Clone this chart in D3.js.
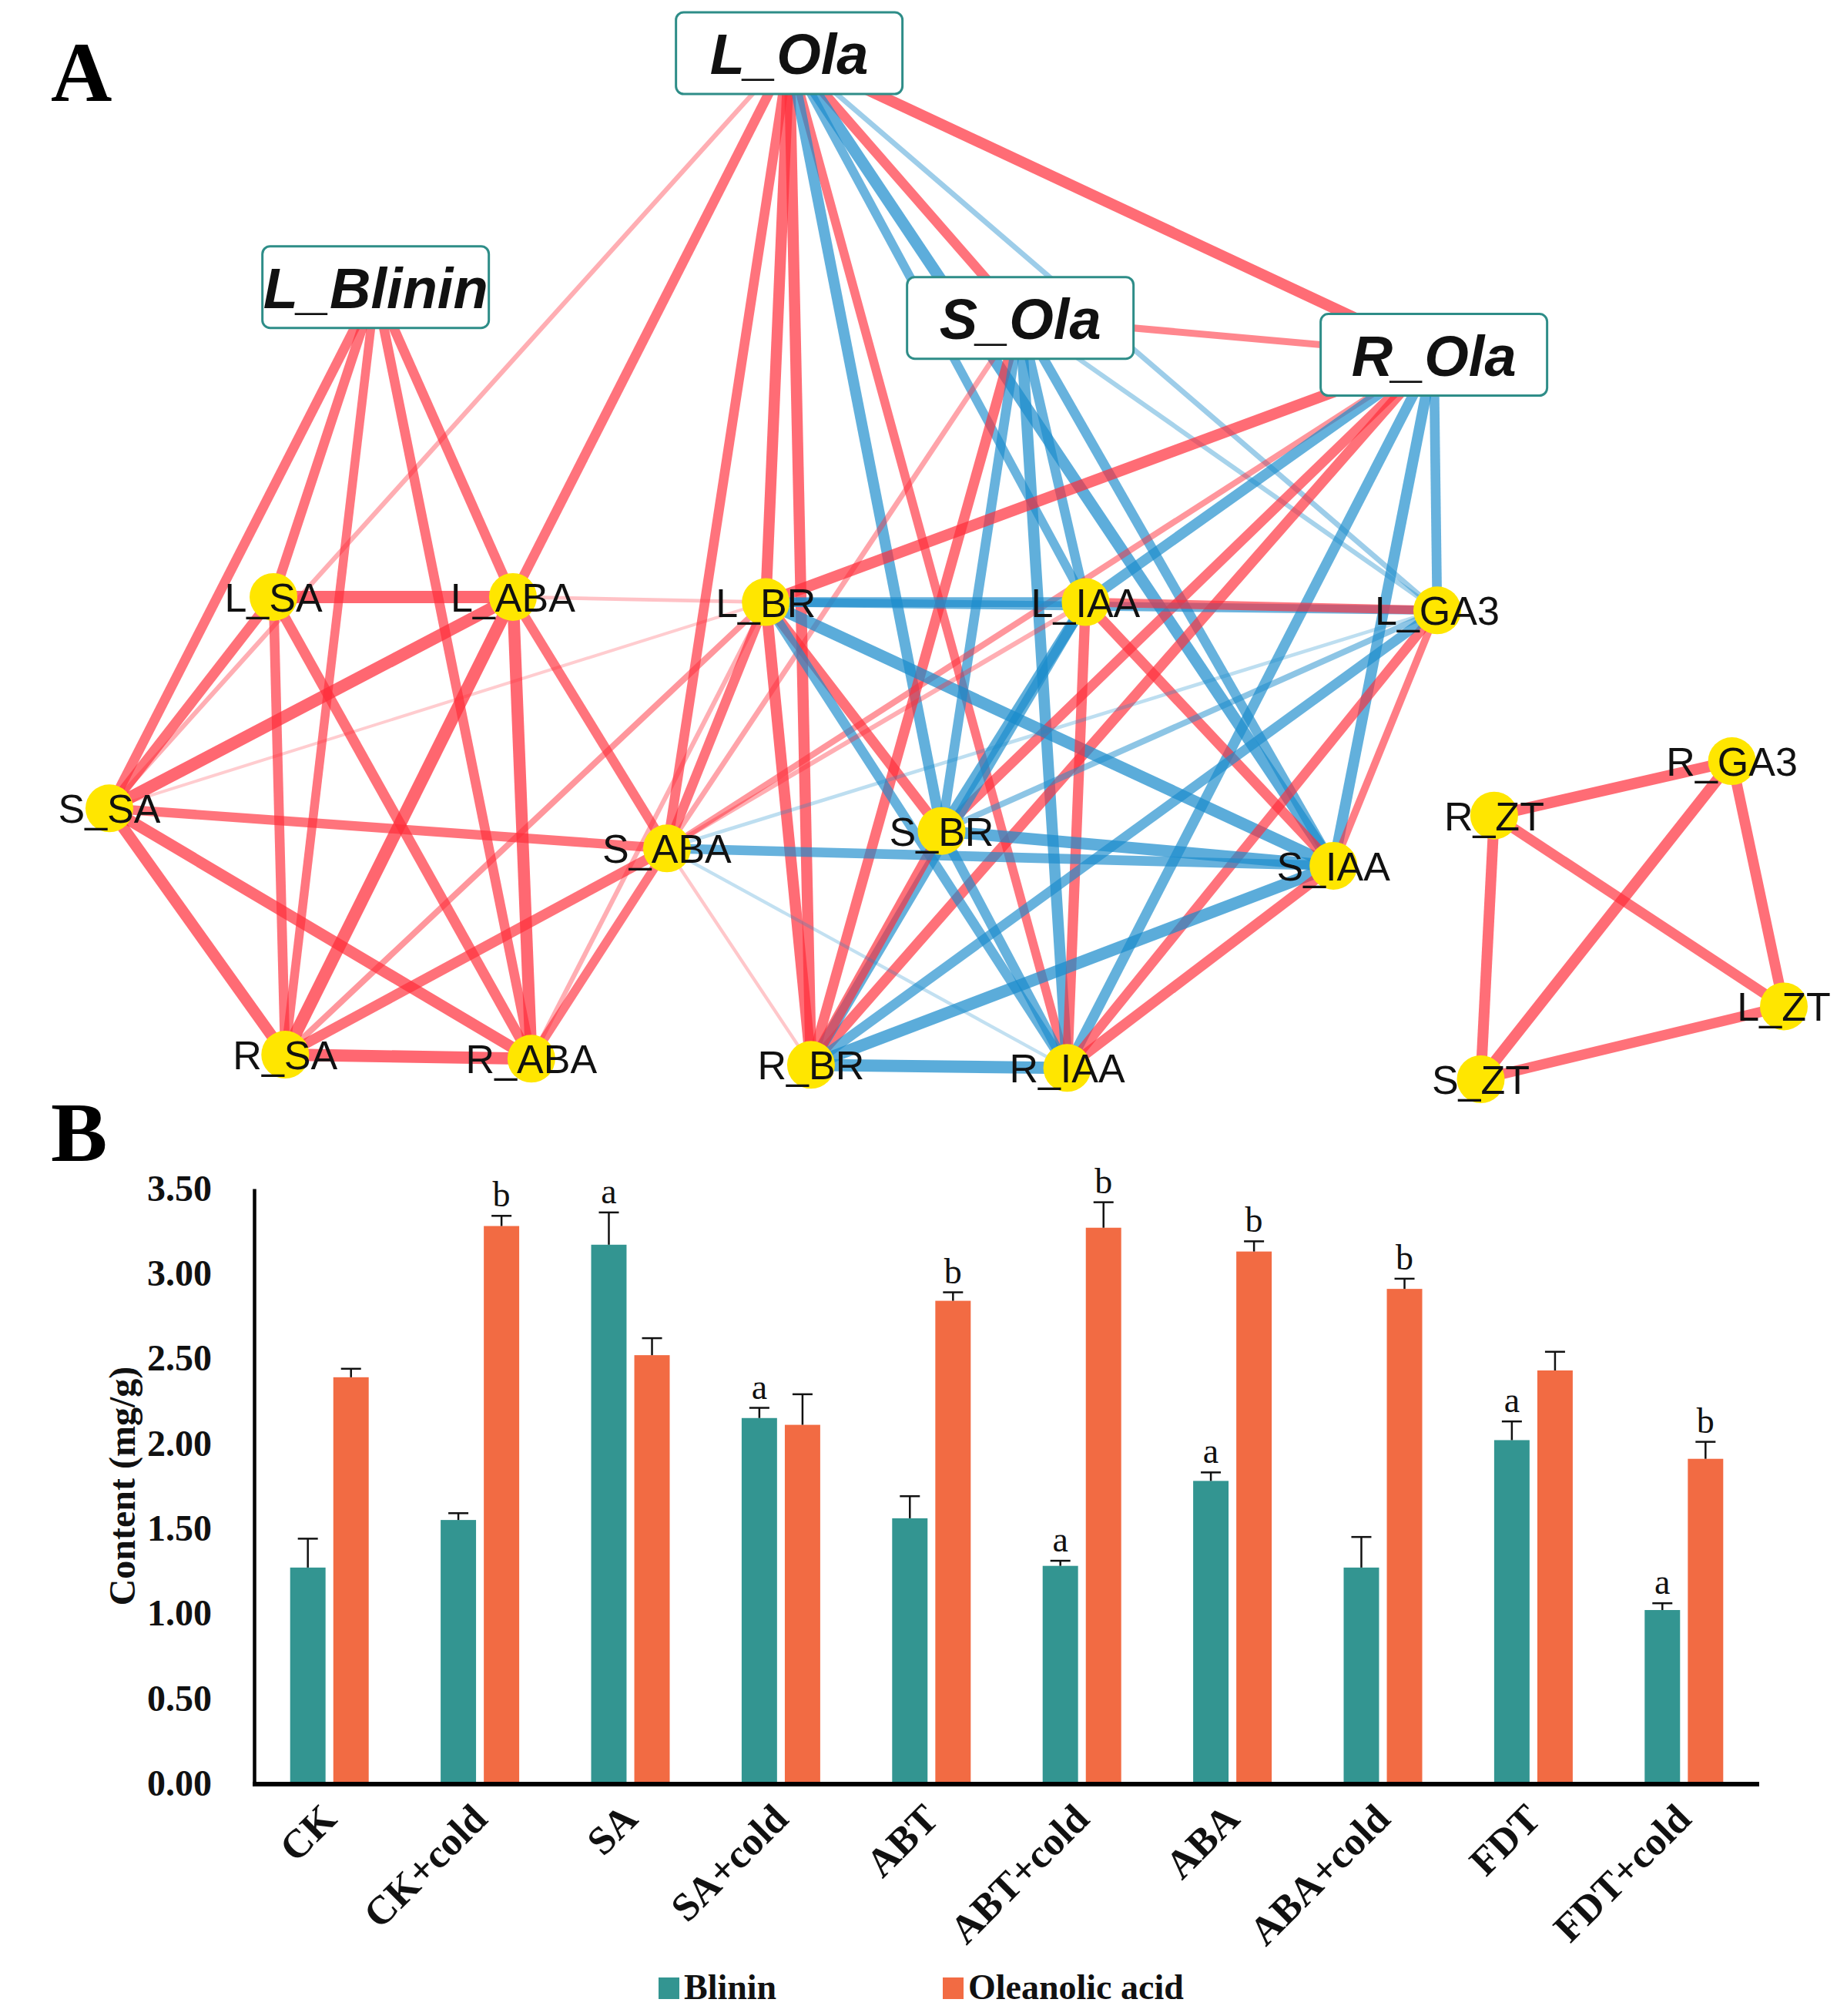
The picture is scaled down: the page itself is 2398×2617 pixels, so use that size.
<!DOCTYPE html>
<html>
<head>
<meta charset="utf-8">
<script src="https://cdn.jsdelivr.net/npm/d3@7"></script>
<style>
  body { margin: 0; background: #fff; }
  svg { display: block; }
</style>
</head>
<body>
<div id="vis"></div>
<script>
// ---------- panel A: correlation network ----------
// layout units (0-100) as exported from the network tool
const nodeNames = ["L_Ola", "S_Ola", "R_Ola", "L_Blinin",
  "L_SA", "L_ABA", "L_BR", "L_IAA", "L_GA3",
  "S_SA", "S_ABA", "S_BR", "S_IAA",
  "R_SA", "R_ABA", "R_BR", "R_IAA",
  "R_ZT", "R_GA3", "L_ZT", "S_ZT"];
const nodeX = [40.6, 54.4, 79.1, 15.9,
  9.8, 24.1, 39.2, 58.3, 79.3,
  0, 33.3, 49.7, 73.1,
  10.5, 25.2, 41.9, 57.2,
  82.7, 96.9, 100, 81.9];
const nodeY = [0, 25.8, 29.4, 22.8,
  53.0, 53.0, 53.5, 53.5, 54.3,
  73.6, 77.5, 75.8, 79.2,
  97.6, 98.0, 98.6, 98.9,
  74.3, 69.0, 92.9, 100];
const metaboliteNodes = ["L_Ola", "S_Ola", "R_Ola", "L_Blinin"];

// correlation edges: source, target, r (positive = red, negative = blue)
const edges = [
  ["L_Blinin", "L_SA", 0.88], ["L_Blinin", "S_SA", 0.88], ["L_Blinin", "R_SA", 0.85],
  ["L_Blinin", "R_ABA", 0.88], ["L_Blinin", "L_ABA", 0.88],
  ["L_SA", "L_ABA", 0.97], ["L_SA", "S_SA", 0.9], ["L_SA", "R_SA", 0.88], ["L_SA", "R_ABA", 0.9],
  ["L_ABA", "S_SA", 0.97], ["L_ABA", "R_SA", 0.98], ["L_ABA", "R_ABA", 0.96],
  ["L_ABA", "S_ABA", 0.87], ["L_ABA", "L_BR", 0.66],
  ["S_SA", "S_ABA", 0.87], ["S_SA", "R_SA", 0.94], ["S_SA", "R_ABA", 0.94], ["S_SA", "L_BR", 0.64],
  ["R_SA", "R_ABA", 0.97], ["R_SA", "S_ABA", 0.9], ["R_SA", "L_BR", 0.75],
  ["R_ABA", "L_BR", 0.7], ["R_ABA", "S_ABA", 0.85],
  ["L_Ola", "S_SA", 0.7], ["L_Ola", "L_ABA", 0.88], ["L_Ola", "S_ABA", 0.88],
  ["L_Ola", "L_BR", 0.93], ["L_Ola", "R_BR", 0.93], ["L_Ola", "R_IAA", 0.85],
  ["L_Ola", "R_Ola", 0.93], ["L_Ola", "S_Ola", 0.88],
  ["L_Ola", "S_BR", -0.92], ["L_Ola", "S_IAA", -0.95], ["L_Ola", "L_IAA", -0.85], ["L_Ola", "L_GA3", -0.72],
  ["S_Ola", "R_Ola", 0.78], ["S_Ola", "R_BR", 0.9], ["S_Ola", "S_ABA", 0.72],
  ["S_Ola", "S_BR", -0.88], ["S_Ola", "R_IAA", -0.93], ["S_Ola", "L_IAA", -0.88],
  ["S_Ola", "S_IAA", -0.88], ["S_Ola", "L_GA3", -0.7],
  ["R_Ola", "L_BR", 0.93], ["R_Ola", "S_BR", 0.88], ["R_Ola", "R_BR", 0.9], ["R_Ola", "S_ABA", 0.75],
  ["R_Ola", "L_GA3", -0.88], ["R_Ola", "S_IAA", -0.92], ["R_Ola", "R_IAA", -0.9], ["R_Ola", "L_IAA", -0.9],
  ["L_BR", "S_ABA", 0.88], ["L_BR", "R_BR", 0.93], ["L_BR", "S_BR", 0.9],
  ["L_BR", "L_IAA", -0.88], ["L_BR", "L_GA3", -0.85], ["L_BR", "S_IAA", -0.96], ["L_BR", "R_IAA", -0.88],
  ["L_IAA", "R_IAA", 0.9], ["L_IAA", "S_IAA", 0.9], ["L_IAA", "L_GA3", 0.85], ["L_IAA", "S_ABA", 0.7],
  ["L_IAA", "S_BR", -0.93], ["L_IAA", "R_BR", -0.9],
  ["L_GA3", "S_IAA", 0.8], ["L_GA3", "R_IAA", 0.88],
  ["L_GA3", "R_BR", -0.88], ["L_GA3", "S_BR", -0.75], ["L_GA3", "S_ABA", -0.66],
  ["S_BR", "R_BR", 0.9], ["S_BR", "S_IAA", -0.95], ["S_BR", "R_IAA", -0.88],
  ["S_ABA", "S_IAA", -0.88], ["S_ABA", "R_IAA", -0.65], ["S_ABA", "R_BR", 0.65],
  ["S_IAA", "R_BR", -0.96], ["S_IAA", "R_IAA", 0.9], ["R_BR", "R_IAA", -0.97],
  ["R_ZT", "R_GA3", 0.93], ["R_ZT", "S_ZT", 0.92], ["R_ZT", "L_ZT", 0.9],
  ["R_GA3", "S_ZT", 0.93], ["R_GA3", "L_ZT", 0.91], ["S_ZT", "L_ZT", 0.9]
];

// ---------- panel B: bar chart ----------
const categories = ["CK", "CK+cold", "SA", "SA+cold", "ABT", "ABT+cold", "ABA", "ABA+cold", "FDT", "FDT+cold"];
const blinin = [1.27, 1.55, 3.17, 2.15, 1.56, 1.28, 1.78, 1.27, 2.02, 1.02];
const blininErr = [0.17, 0.04, 0.19, 0.06, 0.13, 0.03, 0.05, 0.18, 0.11, 0.04];
const oleanolic = [2.39, 3.28, 2.52, 2.11, 2.84, 3.27, 3.13, 2.91, 2.43, 1.91];
const oleanolicErr = [0.05, 0.06, 0.10, 0.18, 0.05, 0.15, 0.06, 0.06, 0.11, 0.10];
const blininSig = ["", "", "a", "a", "", "a", "a", "", "a", "a"];
const oleanolicSig = ["", "b", "", "", "b", "b", "b", "b", "", "b"];
const seriesNames = ["Blinin", "Oleanolic acid"];
const yTicks = [0, 0.5, 1, 1.5, 2, 2.5, 3, 3.5];

const W = 2398, H = 2617;
const svg = d3.select("#vis")
  .append("svg")
  .attr("width", W)
  .attr("height", H)
  .attr("viewBox", `0 0 ${W} ${H}`);

const serif = "'Liberation Serif', 'Times New Roman', serif";
const sans = "'Liberation Sans', Arial, sans-serif";

// panel letters
svg.append("text").attr("x", 66).attr("y", 131)
  .attr("font-family", serif).attr("font-weight", "bold").attr("font-size", 110)
  .text("A");
svg.append("text").attr("x", 66).attr("y", 1507)
  .attr("font-family", serif).attr("font-weight", "bold").attr("font-size", 110)
  .text("B");

// ---------- network ----------
const nx = d3.scaleLinear().domain([0, 100]).range([142, 2316]);
const ny = d3.scaleLinear().domain([0, 100]).range([69, 1401]);
const widthScale = d3.scaleLinear().domain([0.6, 1]).range([2.5, 17]).clamp(true);
const opacityScale = d3.scaleLinear().domain([0.6, 0.8, 1]).range([0.15, 0.62, 0.74]).clamp(true);

const nodes = nodeNames.map((name, i) => ({ name, x: nodeX[i], y: nodeY[i] }));
const byName = new Map(nodes.map(d => [d.name, d]));

const net = svg.append("g");

net.selectAll("line.edge")
  .data(edges)
  .join("line")
  .attr("class", "edge")
  .attr("x1", d => nx(byName.get(d[0]).x))
  .attr("y1", d => ny(byName.get(d[0]).y))
  .attr("x2", d => nx(byName.get(d[1]).x))
  .attr("y2", d => ny(byName.get(d[1]).y))
  .attr("stroke", d => d[2] > 0 ? "#ff2d3a" : "#1b8ccc")
  .attr("stroke-width", d => widthScale(Math.abs(d[2])))
  .attr("stroke-opacity", d => opacityScale(Math.abs(d[2])));

const hormones = nodes.filter(d => !metaboliteNodes.includes(d.name));
const metabolites = nodes.filter(d => metaboliteNodes.includes(d.name));

net.selectAll("circle.node")
  .data(hormones)
  .join("circle")
  .attr("class", "node")
  .attr("cx", d => nx(d.x))
  .attr("cy", d => ny(d.y))
  .attr("r", 31)
  .attr("fill", "#ffe600");

net.selectAll("text.node-label")
  .data(hormones)
  .join("text")
  .attr("class", "node-label")
  .attr("x", d => nx(d.x))
  .attr("y", d => ny(d.y) + 19)
  .attr("text-anchor", "middle")
  .attr("font-family", sans)
  .attr("font-size", 52)
  .attr("fill", "#111")
  .text(d => d.name);

const boxW = 294, boxH = 106;
net.selectAll("rect.box")
  .data(metabolites)
  .join("rect")
  .attr("class", "box")
  .attr("x", d => nx(d.x) - boxW / 2)
  .attr("y", d => ny(d.y) - boxH / 2)
  .attr("width", boxW)
  .attr("height", boxH)
  .attr("rx", 10)
  .attr("fill", "#fff")
  .attr("stroke", "#2e8d88")
  .attr("stroke-width", 3);

net.selectAll("text.box-label")
  .data(metabolites)
  .join("text")
  .attr("class", "box-label")
  .attr("x", d => nx(d.x))
  .attr("y", d => ny(d.y) + 27)
  .attr("text-anchor", "middle")
  .attr("font-family", sans)
  .attr("font-weight", "bold")
  .attr("font-style", "italic")
  .attr("font-size", 74)
  .attr("fill", "#111")
  .text(d => d.name);

// ---------- bar chart ----------
const x = d3.scaleBand().domain(categories).range([330, 2284]).padding(0);
const xSub = d3.scaleBand().domain(seriesNames)
  .range([x.bandwidth() / 2 - 51, x.bandwidth() / 2 + 51])
  .paddingInner(0.18);
const y = d3.scaleLinear().domain([0, 3.5]).range([2315, 1543]);
const color = d3.scaleOrdinal().domain(seriesNames).range(["#339591", "#f26b43"]);

const barData = [];
categories.forEach((c, i) => {
  barData.push({ cat: c, series: "Blinin", value: blinin[i], err: blininErr[i], sig: blininSig[i] });
  barData.push({ cat: c, series: "Oleanolic acid", value: oleanolic[i], err: oleanolicErr[i], sig: oleanolicSig[i] });
});

const chart = svg.append("g");

chart.selectAll("rect.bar")
  .data(barData)
  .join("rect")
  .attr("class", "bar")
  .attr("x", d => x(d.cat) + xSub(d.series))
  .attr("y", d => y(d.value))
  .attr("width", xSub.bandwidth())
  .attr("height", d => y(0) - y(d.value))
  .attr("fill", d => color(d.series));

const errG = chart.selectAll("g.err")
  .data(barData)
  .join("g")
  .attr("class", "err")
  .attr("transform", d => `translate(${x(d.cat) + xSub(d.series) + xSub.bandwidth() / 2},0)`);

errG.append("line")
  .attr("x1", 0).attr("x2", 0)
  .attr("y1", d => y(d.value))
  .attr("y2", d => y(d.value + d.err))
  .attr("stroke", "#111").attr("stroke-width", 2.5);

errG.append("line")
  .attr("x1", -13).attr("x2", 13)
  .attr("y1", d => y(d.value + d.err))
  .attr("y2", d => y(d.value + d.err))
  .attr("stroke", "#111").attr("stroke-width", 2.5);

errG.append("text")
  .attr("x", 0)
  .attr("y", d => y(d.value + d.err) - 12)
  .attr("text-anchor", "middle")
  .attr("font-family", serif)
  .attr("font-size", 46)
  .attr("fill", "#111")
  .text(d => d.sig);

// y axis
const yAxis = chart.append("g")
  .attr("transform", "translate(330,0)")
  .call(d3.axisLeft(y).tickValues(yTicks).tickFormat(d3.format(".2f")).tickSize(0).tickPadding(55));
yAxis.select(".domain").attr("stroke", "#000").attr("stroke-width", 4.5);
yAxis.selectAll("text")
  .attr("font-family", serif)
  .attr("font-weight", "bold")
  .attr("font-size", 48)
  .attr("fill", "#111");

// x axis baseline
chart.append("line")
  .attr("x1", 328).attr("x2", 2284)
  .attr("y1", y(0) + 1).attr("y2", y(0) + 1)
  .attr("stroke", "#000").attr("stroke-width", 6);

chart.selectAll("text.xlab")
  .data(categories)
  .join("text")
  .attr("class", "xlab")
  .attr("transform", d => `translate(${x(d) + x.bandwidth() / 2 + 12},2364) rotate(-45)`)
  .attr("text-anchor", "end")
  .attr("font-family", serif)
  .attr("font-weight", "bold")
  .attr("font-size", 52)
  .attr("fill", "#111")
  .text(d => d);

chart.append("text")
  .attr("transform", `translate(158,${(y(0) + y(3.5)) / 2}) rotate(-90)`)
  .attr("text-anchor", "middle")
  .attr("dominant-baseline", "central")
  .attr("font-family", serif)
  .attr("font-weight", "bold")
  .attr("font-size", 48)
  .attr("fill", "#111")
  .text("Content (mg/g)");

// legend
const legendX = [855, 1224];
const legend = chart.selectAll("g.legend")
  .data(seriesNames)
  .join("g")
  .attr("class", "legend")
  .attr("transform", (d, i) => `translate(${legendX[i]},2567)`);
legend.append("rect")
  .attr("width", 27).attr("height", 28)
  .attr("fill", d => color(d));
legend.append("text")
  .attr("x", 33).attr("y", 28)
  .attr("font-family", serif)
  .attr("font-weight", "bold")
  .attr("font-size", 46)
  .attr("fill", "#111")
  .text(d => d);
</script>
</body>
</html>
